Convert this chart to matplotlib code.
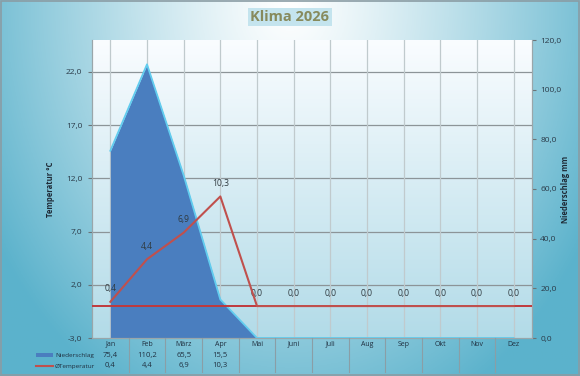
import numpy as np
import matplotlib
matplotlib.use("Agg")
import matplotlib.pyplot as plt
from matplotlib.ticker import FuncFormatter
from matplotlib.transforms import blended_transform_factory
from matplotlib.patches import Rectangle
from matplotlib.lines import Line2D

plt.rcParams['font.family'] = ['Open Sans', 'DejaVu Sans']

# Daten
monate = ['Jan', 'Feb', 'März', 'Apr', 'Mai', 'Juni', 'Juli', 'Aug', 'Sep', 'Okt', 'Nov', 'Dez']
niederschlag = [75.4, 110.2, 65.5, 15.5, np.nan, np.nan, np.nan, np.nan, np.nan, np.nan, np.nan, np.nan]
temperatur = [0.4, 4.4, 6.9, 10.3, np.nan, np.nan, np.nan, np.nan, np.nan, np.nan, np.nan, np.nan]
temp_ticks = [-3, 2, 7, 12, 17, 22]
nied_ticks = [0, 20, 40, 60, 80, 100, 120]

def komma(v, pos=None):
    return f"{v:.1f}".replace('.', ',')

W, H = 580, 376
fig = plt.figure(figsize=(W / 100, H / 100), dpi=100)

# Hintergrund (Verlauf)
bg = fig.add_axes([0, 0, 1, 1], zorder=-10)
yy, xx = np.mgrid[0:1:200j, 0:1:300j]
r = np.sqrt(((xx - 0.5) / 0.6) ** 2 + ((yy - 0.0) / 1.2) ** 2)
r = np.clip(r, 0, 1) ** 1.2
weiss = np.array([1.0, 1.0, 1.0])
tuerkis = np.array([0.36, 0.70, 0.80])
img = weiss[None, None, :] * (1 - r[..., None]) + tuerkis[None, None, :] * r[..., None]
bg.imshow(img, extent=[0, 1, 0, 1], origin='upper', aspect='auto')
bg.set_axis_off()
fig.add_artist(Rectangle((0.001, 0.002), 0.997, 0.995, transform=fig.transFigure,
                         fill=False, edgecolor='#8a9ca4', lw=1.2))

left, right, top, bottom = 92 / W, 532 / W, 1 - 40 / H, 1 - 338 / H
ax_p = fig.add_axes([left, bottom, right - left, top - bottom])
ax_t = ax_p.twinx()

x = np.arange(len(monate))

# Plotbereich Verlauf
grad = np.linspace(0, 1, 100)[:, None]
c_top = np.array([0.98, 0.99, 1.0])
c_bot = np.array([0.70, 0.86, 0.91])
pimg = c_top[None, None, :] * (1 - grad[..., None]) + c_bot[None, None, :] * grad[..., None]
pimg = np.repeat(pimg, 2, axis=1)
ax_p.imshow(pimg, extent=[-0.5, 11.5, 0, 120], origin='upper', aspect='auto', zorder=0)

ax_p.set_xlim(-0.5, 11.5)
ax_p.set_ylim(0, 120)
ax_t.set_ylim(-3, 25)

# Gitter hinter der Fläche
ax_p.set_xticks(x)
ax_p.grid(axis='x', color='#c0cacd', lw=0.9, zorder=1)
trans_grid = blended_transform_factory(ax_p.transAxes, ax_t.transData)
for t in temp_ticks[1:]:
    ax_p.plot([0, 1], [t, t], transform=trans_grid, color='#8c9498', lw=0.9, zorder=1)

# Niederschlag (Fläche)
nd = np.nan_to_num(np.array(niederschlag))
ax_p.fill_between(x, 0, nd, color='#4a7ebf', zorder=2, lw=0)
ax_p.plot(x, nd, color='#62cdef', lw=1.3, zorder=3)

# Temperatur (Linie)
td = np.nan_to_num(np.array(temperatur))
ax_t.axhline(0, color='#c0393c', lw=1.4, zorder=4)
ax_t.plot(x, td, color='#c0504d', lw=1.5, zorder=5)
for xi, v in zip(x, td):
    ax_t.annotate(komma(v), (xi, v), xytext=(0, 6), textcoords='offset points',
                  ha='center', va='bottom', fontsize=6.2, color='#303a40')

# Achsen
ax_p.patch.set_visible(False)
ax_t.patch.set_visible(False)
ax_p.yaxis.tick_right()
ax_p.set_yticks(nied_ticks)
ax_p.yaxis.set_major_formatter(FuncFormatter(komma))
ax_p.tick_params(axis='y', labelsize=6, colors='#6a7478', labelcolor='#2a3a48', length=3, pad=3)
ax_p.tick_params(axis='x', length=0, labelbottom=False)
ax_t.yaxis.tick_left()
ax_t.yaxis.set_label_position('left')
ax_t.set_yticks(temp_ticks)
ax_t.yaxis.set_major_formatter(FuncFormatter(komma))
ax_t.tick_params(axis='y', labelsize=6, colors='#6a7478', labelcolor='#2a3a48', length=3, pad=4)
for a in (ax_p, ax_t):
    for s in a.spines.values():
        s.set_color('#9aa6aa')
        s.set_linewidth(0.8)
    a.spines['top'].set_visible(False)

ax_t.set_ylabel('Temperatur °C', fontsize=5.5, fontweight='bold', color='#1e2a36', labelpad=8)
fig.text(566 / W, (top + bottom) / 2, 'Niederschlag mm', rotation=90, ha='center', va='center',
         fontsize=5.5, fontweight='bold', color='#1e2a36')

# Titel
fig.text(0.5, 1 - 17 / H, 'Klima 2026', ha='center', va='center', fontsize=10.5,
         fontweight='bold', color='#878a5c',
         bbox=dict(boxstyle='square,pad=0.15', fc='#c4e4ee', ec='none'))

# Datentabelle
tt = blended_transform_factory(ax_p.transData, fig.transFigure)
y_mon, y_n, y_t = 1 - 344 / H, 1 - 355 / H, 1 - 366 / H
for xi, m in zip(x, monate):
    fig.text(xi, y_mon, m, transform=tt, ha='center', va='center', fontsize=5, color='#203040')
for xi, v in zip(x, niederschlag):
    if not np.isnan(v):
        fig.text(xi, y_n, komma(v), transform=tt, ha='center', va='center', fontsize=5.5, color='#203040')
for xi, v in zip(x, temperatur):
    if not np.isnan(v):
        fig.text(xi, y_t, komma(v), transform=tt, ha='center', va='center', fontsize=5.5, color='#203040')
for xi in x[:-1]:
    fig.add_artist(Line2D([xi + 0.5, xi + 0.5], [1 - 372 / H, bottom], transform=tt,
                          color='#8a9ea6', lw=0.8))
fig.add_artist(Rectangle((36 / W, 1 - 357 / H), 17 / W, 4 / H, transform=fig.transFigure,
                         fc='#4a7ebf', ec='none'))
fig.add_artist(Line2D([36 / W, 53 / W], [y_t, y_t], transform=fig.transFigure, color='#c0504d', lw=1.5))
fig.text(55 / W, y_n, 'Niederschlag', ha='left', va='center', fontsize=4.6, color='#203040')
fig.text(55 / W, y_t, 'ØTemperatur', ha='left', va='center', fontsize=4.6, color='#203040')

fig.savefig('out.png', dpi=100)
